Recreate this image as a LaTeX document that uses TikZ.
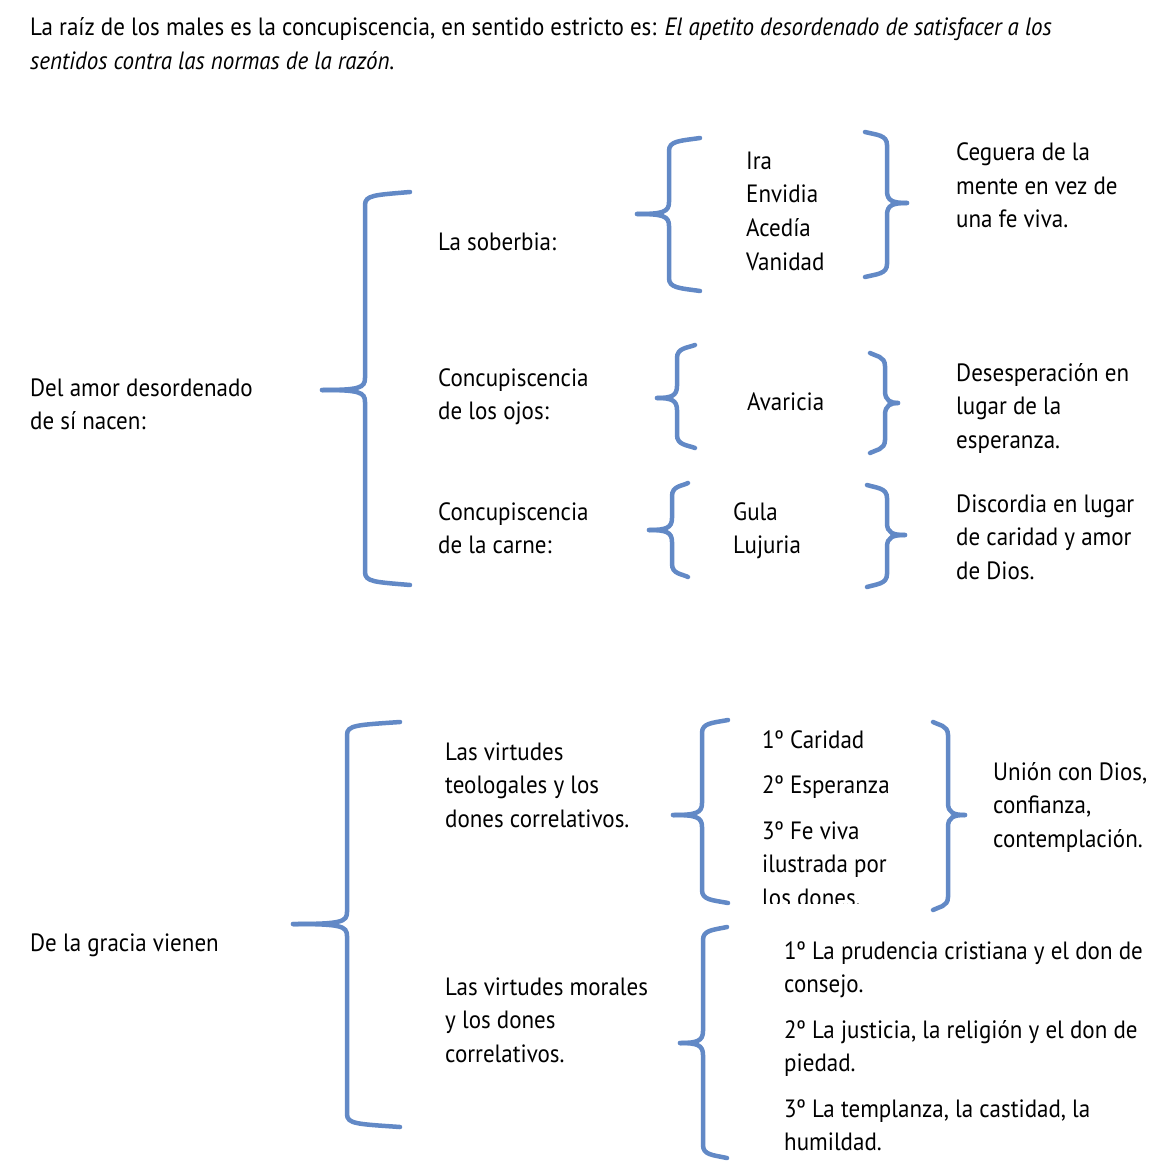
\documentclass[tikz,border=0pt]{standalone}
\usepackage{fontspec}
\setmainfont{PT Sans}[FakeStretch=0.92]
\usepackage{tikz}

\definecolor{bracecol}{RGB}{98,137,198}

% arm x, vertical x, tip x, top y, tip y, bottom y
\newcommand{\leftbr}[6]{%
  \draw[brace] (#1,#4) .. controls (#2+10,#4+3) and (#2,#4+3) .. (#2,#4+13) -- (#2,#5-12) .. controls (#2,#5-2) and (#2-6,#5) .. (#3,#5);
  \draw[brace] (#3,#5) .. controls (#2-6,#5) and (#2,#5+2) .. (#2,#5+12) -- (#2,#6-13) .. controls (#2,#6-3) and (#2+10,#6-3) .. (#1,#6);}
\newcommand{\rightbr}[6]{%
  \draw[brace] (#1,#4) .. controls (#2-10,#4+3) and (#2,#4+3) .. (#2,#4+13) -- (#2,#5-12) .. controls (#2,#5-2) and (#2+6,#5) .. (#3,#5);
  \draw[brace] (#3,#5) .. controls (#2+6,#5) and (#2,#5+2) .. (#2,#5+12) -- (#2,#6-13) .. controls (#2,#6-3) and (#2-10,#6-3) .. (#1,#6);}

% nodes sit on the baseline of their last line
\tikzset{
  brace/.style={draw=bracecol, line width=4.5pt, line cap=round},
  txt/.style={anchor=base west, inner sep=0pt, align=left}
}

\begin{document}
\begin{tikzpicture}[x=1pt, y=-1pt, font=\fontsize{25}{33.5}\selectfont]
\useasboundingbox (0,0) rectangle (1169,1166);

% heading
\node[txt] (intro) at (30,69.5) {La raíz de los males es la concupiscencia, en sentido estricto es: \textit{El apetito desordenado de satisfacer a los}\\\textit{sentidos contra las normas de la razón.}};

% del amor desordenado
\node[txt] (amor) at (30,429.5) {Del amor desordenado\\de sí nacen:};
\node[txt] (soberbia) at (438,251) {La soberbia:};
\node[txt] (ojos) at (438,419.5) {Concupiscencia\\de los ojos:};
\node[txt] (carne) at (438,553.5) {Concupiscencia\\de la carne:};
\node[txt] (pecados) at (746,270) {Ira\\Envidia\\Acedía\\Vanidad};
\node[txt] (avaricia) at (747,410) {Avaricia};
\node[txt] (gula) at (733,553.5) {Gula\\Lujuria};
\node[txt] (ceguera) at (956,228) {Ceguera de la\\mente en vez de\\una fe viva.};
\node[txt] (desesp) at (956,448) {Desesperación en\\lugar de la\\esperanza.};
\node[txt] (discordia) at (956,579) {Discordia en lugar\\de caridad y amor\\de Dios.};

\leftbr{410}{365}{322}{192}{390}{585}
\leftbr{700}{669}{637}{138}{214}{291}
\rightbr{865}{887}{907}{132}{203}{277}
\leftbr{695}{677}{657}{345}{398}{448}
\rightbr{870}{885}{898}{353}{403}{453}
\leftbr{688}{672}{649}{483}{530}{577}
\rightbr{867}{887}{905}{485}{535}{587}

% de la gracia
\node[txt] (gracia) at (30,951) {De la gracia vienen};
\node[txt] (teolog) at (445,827) {Las virtudes\\teologales y los\\dones correlativos.};
\node[txt] (morales) at (445,1062) {Las virtudes morales\\y los dones\\correlativos.};
\begin{scope}
  \clip (740,700) rectangle (930,903);
  \node[txt] (teolist) at (762,906) {1º Caridad\\[12pt]2º Esperanza\\[12pt]3º Fe viva\\ilustrada por\\los dones.};
\end{scope}
\node[txt] (union) at (993,847) {Unión con Dios,\\confianza,\\contemplación.};
\node[txt] (morlist) at (784,1150.5) {1º La prudencia cristiana y el don de\\consejo.\\[12pt]2º La justicia, la religión y el don de\\piedad.\\[12pt]3º La templanza, la castidad, la\\humildad.};

\leftbr{400}{347}{293}{722}{924}{1127}
\leftbr{728}{702}{673}{720}{815}{903}
\rightbr{933}{948}{965}{722}{815}{910}
\leftbr{727}{703}{680}{927}{1043}{1158}

\end{tikzpicture}
\end{document}
